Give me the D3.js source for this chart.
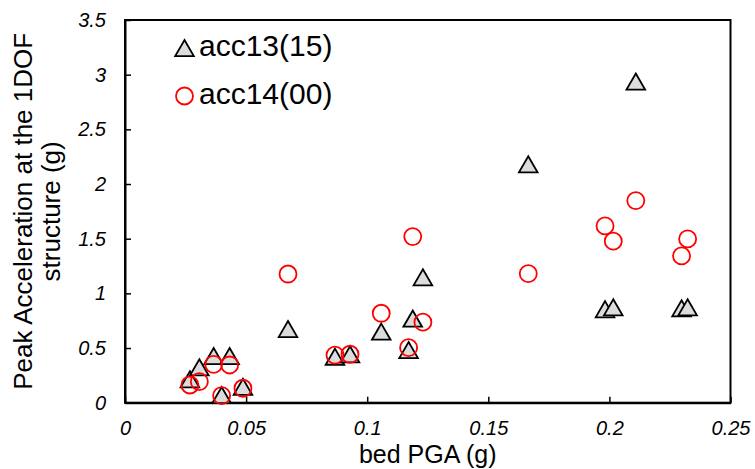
<!DOCTYPE html>
<html>
<head>
<meta charset="utf-8">
<script src="https://cdn.jsdelivr.net/npm/d3@7"></script>
<style>
  html, body { margin: 0; padding: 0; background: #fff; }
  svg { display: block; font-family: Arial, "Liberation Sans", sans-serif; }
</style>
</head>
<body>
<svg id="chart" width="755" height="469"></svg>
<script>
// Bed PGA (g) for each test, shared by both series
const bedPGA = [0.0268, 0.0307, 0.0366, 0.0432, 0.0399, 0.0487, 0.0673, 0.0867, 0.0929,
                0.1058, 0.1171, 0.1188, 0.1230, 0.1665, 0.1982, 0.2016, 0.2109, 0.2298, 0.2323];
// Peak acceleration at the 1DOF structure (g)
const acc13 = [0.214, 0.324, 0.427, 0.427, 0.070, 0.146, 0.674, 0.421, 0.443,
               0.650, 0.482, 0.769, 1.147, 2.181, 0.855, 0.873, 2.937, 0.864, 0.873];
const acc14 = [0.162, 0.192, 0.351, 0.345, 0.064, 0.132, 1.177, 0.436, 0.443,
               0.818, 0.503, 1.519, 0.736, 1.180, 1.617, 1.477, 1.848, 1.342, 1.498];
const seriesNames = ["acc13(15)", "acc14(00)"];
const xTicks = [0, 0.05, 0.1, 0.15, 0.2, 0.25];
const yTicks = [0, 0.5, 1, 1.5, 2, 2.5, 3, 3.5];

const svg = d3.select("#chart");
const plotL = 125, plotR = 730.5, plotT = 20, plotB = 402.7;

const x = d3.scaleLinear().domain([0, 0.25]).range([plotL, plotR]);
const y = d3.scaleLinear().domain([0, 3.5]).range([plotB, plotT]);

// Plot frame
svg.append("rect")
  .attr("x", plotL).attr("y", plotT)
  .attr("width", plotR - plotL).attr("height", plotB - plotT)
  .attr("fill", "none").attr("stroke", "#000").attr("stroke-width", 2);

// Axes with inward ticks
const fmt = d => d === 0 ? "0" : String(d);
const xAxis = svg.append("g").attr("transform", `translate(0,${plotB})`)
  .call(d3.axisBottom(x).tickValues(xTicks).tickFormat(fmt).tickSizeInner(-6).tickSizeOuter(0).tickPadding(18));
const yAxis = svg.append("g").attr("transform", `translate(${plotL},0)`)
  .call(d3.axisLeft(y).tickValues(yTicks).tickFormat(fmt).tickSizeInner(-6).tickSizeOuter(0).tickPadding(18));

[xAxis, yAxis].forEach(g => {
  g.select(".domain").attr("stroke", "#000").attr("stroke-width", 2);
  g.selectAll(".tick line").attr("stroke", "#000").attr("stroke-width", 1.5);
  g.selectAll(".tick text")
    .attr("fill", "#000")
    .style("font-size", "20px")
    .style("font-style", "italic")
    .style("font-family", "Arial, 'Liberation Sans', sans-serif");
});
xAxis.selectAll(".tick text").attr("dy", "0.85em").attr("y", 15);
yAxis.selectAll(".tick text").attr("x", -19);

// Axis titles
svg.append("text")
  .attr("x", (plotL + plotR) / 2).attr("y", 463)
  .attr("text-anchor", "middle")
  .style("font-size", "25px")
  .text("bed PGA (g)");

const yTitle = svg.append("text")
  .attr("transform", `translate(0,${(plotT + plotB) / 2}) rotate(-90)`)
  .attr("text-anchor", "middle")
  .style("font-size", "26px");
yTitle.append("tspan").attr("x", 0).attr("y", 32).text("Peak Acceleration at the 1DOF");
yTitle.append("tspan").attr("x", 0).attr("y", 60).text("structure (g)");

// Markers (triangles shifted so their bounding box is centred on the value)
const tri = d3.symbol().type(d3.symbolTriangle).size(150);
const pts13 = bedPGA.map((v, i) => [v, acc13[i]]);
const pts14 = bedPGA.map((v, i) => [v, acc14[i]]);

svg.append("g").selectAll("path").data(pts13).join("path")
  .attr("d", tri)
  .attr("transform", d => `translate(${x(d[0])},${y(d[1]) + 2.7})`)
  .attr("fill", "#dcdcdc").attr("stroke", "#000").attr("stroke-width", 1.8);

svg.append("g").selectAll("circle").data(pts14).join("circle")
  .attr("cx", d => x(d[0])).attr("cy", d => y(d[1]))
  .attr("r", 8.5)
  .attr("fill", "none").attr("stroke", "#ff0000").attr("stroke-width", 1.8);

// Legend
const legend = svg.append("g");
legend.append("path").attr("d", tri)
  .attr("transform", "translate(184.5,50.7)")
  .attr("fill", "#dcdcdc").attr("stroke", "#000").attr("stroke-width", 1.8);
legend.append("text").attr("x", 199).attr("y", 56).style("font-size", "30px").text(seriesNames[0]);
legend.append("circle").attr("cx", 184.5).attr("cy", 96).attr("r", 8.5)
  .attr("fill", "none").attr("stroke", "#ff0000").attr("stroke-width", 1.8);
legend.append("text").attr("x", 199).attr("y", 104).style("font-size", "30px").text(seriesNames[1]);
</script>
</body>
</html>
